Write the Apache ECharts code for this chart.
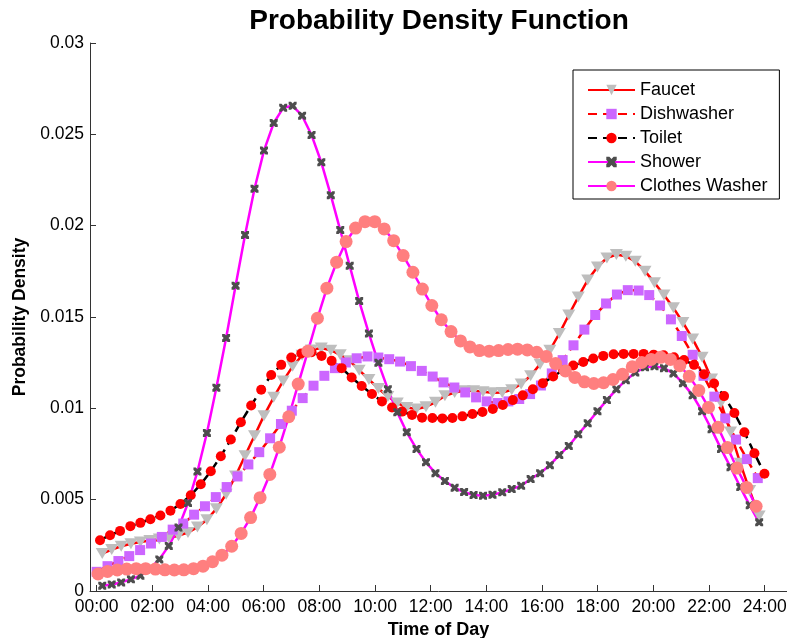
<!DOCTYPE html>
<html>
<head>
<meta charset="utf-8">
<script src="https://cdn.jsdelivr.net/npm/echarts@6/dist/echarts.min.js"></script>
<style>
html,body{margin:0;padding:0;background:#fff;}
#chart{width:787px;height:638px;}
</style>
</head>
<body>
<div id="chart"></div>
<script>
// ---- Data (hours of day, probability density) ----
var seriesNames = ['Faucet', 'Dishwasher', 'Toilet', 'Shower', 'Clothes Washer'];

var xTickValues = [0, 2, 4, 6, 8, 10, 12, 14, 16, 18, 20, 22, 24];
var xTickLabels = ['00:00', '02:00', '04:00', '06:00', '08:00', '10:00', '12:00', '14:00', '16:00', '18:00', '20:00', '22:00', '24:00'];
var yTickValues = [0, 0.005, 0.01, 0.015, 0.02, 0.025, 0.03];
var yTickLabels = ['0', '0.005', '0.01', '0.015', '0.02', '0.025', '0.03'];

// sample times (hours) for Faucet and Shower
var showerT = [0.20, 0.54, 0.88, 1.23, 1.57, 1.91, 2.25, 2.59, 2.94, 3.28, 3.62, 3.96, 4.30, 4.65, 4.99, 5.33, 5.67, 6.01, 6.36, 6.70,
  7.04, 7.38, 7.72, 8.07, 8.41, 8.75, 9.09, 9.43, 9.78, 10.12, 10.46, 10.80, 11.14, 11.49, 11.83, 12.17, 12.51, 12.86, 13.20, 13.54,
  13.88, 14.22, 14.57, 14.91, 15.25, 15.59, 15.93, 16.28, 16.62, 16.96, 17.30, 17.64, 17.99, 18.33, 18.67, 19.01, 19.35, 19.70, 20.04, 20.38,
  20.72, 21.06, 21.41, 21.75, 22.09, 22.43, 22.77, 23.12, 23.46, 23.80];
var faucetT = showerT;
var washerT = [0.05, 0.39, 0.74, 1.08, 1.42, 1.76, 2.11, 2.45, 2.79, 3.13, 3.48, 3.82, 4.16, 4.50, 4.85, 5.19, 5.53, 5.87, 6.22, 6.56,
  6.90, 7.24, 7.59, 7.93, 8.27, 8.62, 8.96, 9.30, 9.64, 9.99, 10.33, 10.67, 11.01, 11.36, 11.70, 12.04, 12.38, 12.73, 13.07, 13.41,
  13.75, 14.10, 14.44, 14.78, 15.12, 15.47, 15.81, 16.15, 16.49, 16.84, 17.18, 17.52, 17.86, 18.21, 18.55, 18.89, 19.24, 19.58, 19.92, 20.26,
  20.61, 20.95, 21.29, 21.63, 21.98, 22.32, 22.66, 23.00, 23.35, 23.69];
var toiletT = [0.12, 0.48, 0.84, 1.21, 1.57, 1.93, 2.29, 2.65, 3.01, 3.38, 3.74, 4.10, 4.46, 4.82, 5.18, 5.55, 5.91, 6.27, 6.63, 6.99,
  7.35, 7.72, 8.08, 8.44, 8.80, 9.16, 9.52, 9.89, 10.25, 10.61, 10.97, 11.33, 11.69, 12.06, 12.42, 12.78, 13.14, 13.50, 13.86, 14.23,
  14.59, 14.95, 15.31, 15.67, 16.03, 16.40, 16.76, 17.12, 17.48, 17.84, 18.20, 18.57, 18.93, 19.29, 19.65, 20.01, 20.37, 20.74, 21.10, 21.46,
  21.82, 22.18, 22.54, 22.91, 23.27, 23.63, 23.99];
var dishT = [0.00, 0.39, 0.78, 1.17, 1.56, 1.95, 2.34, 2.73, 3.11, 3.50, 3.89, 4.28, 4.67, 5.06, 5.45, 5.84, 6.23, 6.62, 7.01, 7.40,
  7.79, 8.18, 8.56, 8.95, 9.34, 9.73, 10.12, 10.51, 10.90, 11.29, 11.68, 12.07, 12.46, 12.85, 13.24, 13.63, 14.01, 14.40, 14.79, 15.18,
  15.57, 15.96, 16.35, 16.74, 17.13, 17.52, 17.91, 18.30, 18.69, 19.08, 19.47, 19.85, 20.24, 20.63, 21.02, 21.41, 21.80, 22.19, 22.58, 22.97,
  23.36, 23.75];

var faucetV = [0.00205, 0.00227, 0.00245, 0.00259, 0.00268, 0.00276, 0.00284, 0.00292, 0.00303, 0.0032, 0.0035, 0.0039, 0.0045, 0.0053, 0.0063, 0.0074, 0.0085, 0.0096, 0.0106, 0.0115,
  0.0123, 0.0129, 0.0132, 0.0133, 0.01318, 0.01293, 0.0126, 0.01209, 0.01158, 0.01109, 0.01065, 0.01029, 0.01005, 0.00996, 0.01009, 0.01033, 0.01069, 0.01087, 0.01096, 0.01096,
  0.01091, 0.01085, 0.01087, 0.01102, 0.01133, 0.01178, 0.01242, 0.01318, 0.01409, 0.01511, 0.01609, 0.01702, 0.01774, 0.01823, 0.01842, 0.01833, 0.01805, 0.01751, 0.01687, 0.0162,
  0.0155, 0.0147, 0.0138, 0.0128, 0.0116, 0.0103, 0.0087, 0.0070, 0.0055, 0.0041];
var dishV = [0.00105, 0.00136, 0.00164, 0.00191, 0.00224, 0.0026, 0.00296, 0.00336, 0.00369, 0.00418, 0.00464, 0.00514, 0.00569, 0.00627, 0.00693, 0.0076, 0.00836, 0.00914, 0.00987, 0.01056,
  0.01124, 0.01178, 0.0122, 0.01251, 0.01274, 0.01284, 0.01278, 0.01269, 0.01256, 0.01231, 0.01205, 0.01174, 0.01142, 0.01114, 0.01087, 0.0106, 0.01038, 0.01029, 0.01038, 0.01051,
  0.01078, 0.01125, 0.01191, 0.01264, 0.01345, 0.01431, 0.01511, 0.01574, 0.01623, 0.01647, 0.01645, 0.0162, 0.01563, 0.01487, 0.01396, 0.01293, 0.01178, 0.01064, 0.00945, 0.00829,
  0.00722, 0.00618];
var toiletV = [0.00278, 0.00305, 0.00329, 0.00355, 0.00373, 0.00393, 0.00413, 0.0044, 0.00476, 0.00524, 0.00584, 0.00656, 0.00738, 0.00829, 0.00924, 0.01016, 0.01102, 0.01182, 0.01238, 0.01278,
  0.013, 0.01307, 0.01287, 0.0126, 0.0122, 0.01169, 0.01122, 0.01078, 0.01038, 0.01005, 0.00982, 0.00964, 0.00949, 0.00947, 0.00945, 0.00947, 0.00956, 0.00969, 0.0098, 0.00996,
  0.01018, 0.01045, 0.01071, 0.01104, 0.01138, 0.01174, 0.01209, 0.01234, 0.01254, 0.01273, 0.01287, 0.01296, 0.01298, 0.01298, 0.01298, 0.01294, 0.01291, 0.0128, 0.01264, 0.01238,
  0.01187, 0.01136, 0.01067, 0.00974, 0.00869, 0.00754, 0.00642];
var showerV = [0.00029, 0.00036, 0.00047, 0.00064, 0.00084, 0.00122, 0.00173, 0.00247, 0.00347, 0.00482, 0.00654, 0.00865, 0.01113, 0.01385, 0.01671, 0.01949, 0.02202, 0.02411, 0.02562, 0.02645,
  0.02656, 0.02602, 0.02496, 0.02347, 0.02167, 0.01976, 0.0178, 0.01587, 0.01409, 0.01249, 0.01105, 0.00978, 0.00869, 0.00778, 0.00705, 0.00645, 0.00602, 0.00565, 0.00542, 0.00525,
  0.00522, 0.00527, 0.0054, 0.00558, 0.00576, 0.00613, 0.00645, 0.00689, 0.00744, 0.00794, 0.00858, 0.00918, 0.00984, 0.01045, 0.01104, 0.01154, 0.01196, 0.01225, 0.01231, 0.0122,
  0.01191, 0.01138, 0.01071, 0.00984, 0.00885, 0.00778, 0.00678, 0.00569, 0.00469, 0.00376];
var washerV = [0.00093, 0.00107, 0.00115, 0.0012, 0.00122, 0.00122, 0.0012, 0.00116, 0.00115, 0.00116, 0.00122, 0.00136, 0.0016, 0.00196, 0.00245, 0.00315, 0.00402, 0.00511, 0.00638, 0.00787,
  0.00954, 0.01133, 0.01313, 0.01493, 0.01658, 0.018, 0.01913, 0.01987, 0.02022, 0.02022, 0.01982, 0.01918, 0.01836, 0.01745, 0.01653, 0.01563, 0.01485, 0.0142, 0.01369, 0.01336,
  0.01316, 0.01313, 0.01316, 0.01322, 0.01324, 0.0132, 0.01307, 0.01284, 0.01245, 0.01205, 0.01169, 0.01145, 0.01136, 0.0114, 0.01158, 0.01186, 0.01227, 0.01251, 0.01268, 0.01279,
  0.01268, 0.01233, 0.01175, 0.01098, 0.01005, 0.00896, 0.00785, 0.00673, 0.00567, 0.00464];

// ---- helpers ----
function pairs(t, v) {
  var out = [];
  for (var i = 0; i < v.length; i++) out.push([t[i], v[i]]);
  return out;
}
var FONT = '"Liberation Sans", Arial, Helvetica, sans-serif';
var xMark = 'path://M0,0 L3,0 L5,2 L7,0 L10,0 L10,3 L8,5 L10,7 L10,10 L7,10 L5,8 L3,10 L0,10 L0,7 L2,5 L0,3 Z';

var chart = echarts.init(document.getElementById('chart'), null, {renderer: 'canvas'});
var option = {
  animation: false,
  backgroundColor: '#ffffff',
  title: {
    text: 'Probability Density Function',
    left: 434,
    textAlign: 'center',
    top: 2,
    textStyle: {fontFamily: FONT, fontSize: 28, fontWeight: 'bold', color: '#000'}
  },
  legend: {
    data: seriesNames,
    orient: 'vertical',
    left: 573,
    top: 70,
    padding: [11, 12, 4, 14],
    itemWidth: 47,
    itemHeight: 13,
    itemGap: 6,
    borderColor: '#000',
    borderWidth: 1,
    borderRadius: 0,
    backgroundColor: '#fff',
    textStyle: {fontFamily: FONT, fontSize: 18, color: '#000', lineHeight: 18}
  },
  grid: {left: 90, right: 0, top: 43, bottom: 47, containLabel: false, outerBoundsMode: 'none'},
  xAxis: {
    type: 'value',
    min: -0.24,
    max: 24.8,
    name: 'Time of Day',
    nameLocation: 'middle',
    nameGap: 28,
    nameTextStyle: {fontFamily: FONT, fontSize: 18, fontWeight: 'bold', color: '#000'},
    axisLine: {show: true, onZero: false, lineStyle: {color: '#333', width: 1}},
    axisTick: {show: true, inside: true, length: 6, customValues: xTickValues, lineStyle: {color: '#333'}},
    axisLabel: {
      show: true, margin: 7, customValues: xTickValues,
      fontFamily: FONT, fontSize: 17.5, color: '#000',
      formatter: function (v) { var i = xTickValues.indexOf(v); return i >= 0 ? xTickLabels[i] : ''; }
    },
    splitLine: {show: false}
  },
  yAxis: {
    type: 'value',
    min: 0,
    max: 0.03,
    interval: 0.005,
    name: 'Probability Density',
    nameLocation: 'middle',
    nameGap: 58,
    nameTextStyle: {fontFamily: FONT, fontSize: 17.5, fontWeight: 'bold', color: '#000'},
    axisLine: {show: true, onZero: false, lineStyle: {color: '#333', width: 1}},
    axisTick: {show: true, inside: true, length: 6, lineStyle: {color: '#333'}},
    axisLabel: {
      margin: 6, fontFamily: FONT, fontSize: 17.5, color: '#000',
      formatter: function (v) {
        for (var i = 0; i < yTickValues.length; i++) if (Math.abs(yTickValues[i] - v) < 1e-9) return yTickLabels[i];
        return '';
      }
    },
    splitLine: {show: false}
  },
  series: [
    {
      name: 'Faucet', type: 'line', data: pairs(faucetT, faucetV),
      symbol: 'triangle', symbolRotate: 180, symbolSize: [13, 11],
      lineStyle: {color: '#ff0000', width: 2.5, type: 'solid'},
      itemStyle: {color: '#bebebe', borderWidth: 0}
    },
    {
      name: 'Dishwasher', type: 'line', data: pairs(dishT, dishV),
      symbol: 'rect', symbolSize: 10,
      lineStyle: {color: '#ff0000', width: 2.5, type: [9, 6]},
      itemStyle: {color: '#cc66ff', borderWidth: 0}
    },
    {
      name: 'Toilet', type: 'line', data: pairs(toiletT, toiletV),
      symbol: 'circle', symbolSize: 10,
      lineStyle: {color: '#000000', width: 2.5, type: [9, 6]},
      itemStyle: {color: '#ff0000', borderWidth: 0}
    },
    {
      name: 'Shower', type: 'line', data: pairs(showerT, showerV),
      symbol: xMark, symbolSize: 8,
      lineStyle: {color: '#ff00ff', width: 2.5, type: 'solid'},
      itemStyle: {color: '#4d4d4d', borderWidth: 0}
    },
    {
      name: 'Clothes Washer', type: 'line', data: pairs(washerT, washerV),
      symbol: 'circle', symbolSize: 13,
      lineStyle: {color: '#ff00ff', width: 2.5, type: 'solid'},
      itemStyle: {color: '#ff7f7f', borderWidth: 0}
    }
  ]
};
chart.setOption(option);
</script>
</body>
</html>
